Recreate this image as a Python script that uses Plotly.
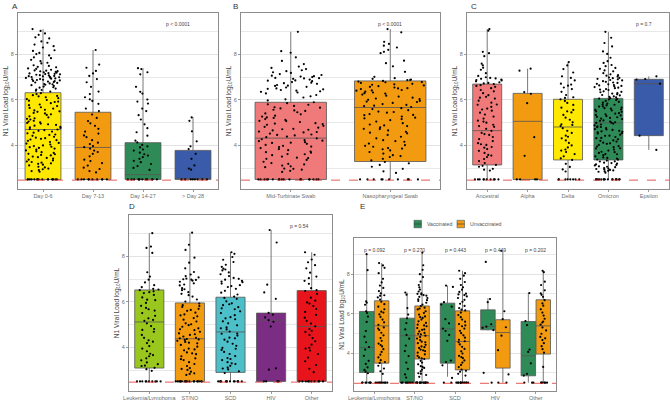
import plotly.graph_objects as go

# ---------------- data ----------------
LOD = 2.47

A_CATS = ["Day 0-6", "Day 7-13", "Day 14-27", "> Day 28"]
A_Q1 = [2.5, 2.5, 2.5, 2.5]
A_MED = [4.70, 3.91, 2.71, 2.52]
A_Q3 = [6.32, 5.46, 4.12, 3.78]
A_LO = [2.5, 2.5, 2.5, 2.5]
A_HI = [9.12, 8.2, 7.4, 5.25]

A_DAY06 = [9.12, 9.04, 8.93, 8.87, 8.76, 8.71, 8.58, 8.52, 8.44, 8.37, 8.31, 8.19, 8.16, 8.07, 8.02, 7.96, 7.88, 7.84,
           7.77, 7.71, 7.64, 7.61, 7.53, 7.5, 7.46, 7.44, 7.39, 7.37, 7.33, 7.3, 7.27, 7.26, 7.22, 7.2, 7.17, 7.15, 7.14,
           7.11, 7.09, 7.06, 7.05, 7.02, 7.0, 6.97, 6.95, 6.94, 6.91, 6.89, 6.86, 6.84, 6.81, 6.79, 6.75, 6.73, 6.7, 6.67,
           6.62, 6.59, 6.54, 6.5, 6.46, 6.41, 6.37, 6.3, 6.26, 6.21, 6.16, 6.12, 6.04, 6.0, 5.97, 5.91, 5.86, 5.8, 5.77,
           5.73, 5.65, 5.62, 5.57, 5.5, 5.48, 5.43, 5.37, 5.34, 5.28, 5.23, 5.19, 5.14, 5.08, 5.05, 4.99, 4.93, 4.9, 4.87,
           4.79, 4.77, 4.72, 4.67, 4.64, 4.56, 4.53, 4.48, 4.46, 4.38, 4.34, 4.29, 4.23, 4.2, 4.15, 4.11, 4.04, 4.0, 3.97,
           3.89, 3.86, 3.81, 3.78, 3.7, 3.67, 3.61, 3.56, 3.51, 3.48, 3.42, 3.37, 3.34, 3.27, 3.21, 3.19, 3.12, 3.06, 3.03,
           2.98, 2.91, 2.87, 2.84, 7.08, 7.24, 6.98, 6.88, 6.65, 6.44, 6.18, 5.93, 5.68, 5.41, 5.17, 4.96, 4.82, 4.61,
           4.42, 4.26, 4.08, 3.92, 3.74, 3.58, 3.45, 3.29, 3.15, 7.13, 7.01, 6.77, 6.56, 6.08, 5.54, 5.02, 4.7, 4.32,
           3.94, 3.63, 3.24, 2.95, 7.18, 6.92, 6.83, 6.69, 7.04, 7.29, 2.5, 2.5, 2.5, 2.5, 2.5, 2.5, 2.5, 2.5, 2.5, 2.5,
           2.5, 2.5, 2.5, 2.5, 2.5, 2.5]
A_DAY713 = [8.2, 7.56, 7.42, 7.28, 7.17, 7.06, 6.92, 6.78, 6.58, 6.37, 6.26, 6.12, 6.03, 5.96, 5.83, 5.62, 5.51, 5.36,
            5.21, 5.07, 4.97, 4.86, 4.73, 4.61, 4.52, 4.44, 4.36, 4.23, 4.12, 4.06, 3.97, 3.92, 3.86, 3.77, 3.71, 3.63,
            3.52, 3.37, 3.31, 3.22, 3.11, 3.02, 2.96, 2.87, 2.81, 2.5, 2.5, 2.5, 2.5, 2.5, 2.5, 2.5, 2.5, 2.5, 2.5]
A_DAY1427 = [7.4, 7.36, 7.22, 7.13, 6.58, 6.36, 6.28, 6.02, 5.93, 5.84, 5.62, 5.51, 5.33, 5.14, 4.93, 4.76, 4.58, 4.43,
             4.21, 4.13, 4.02, 3.96, 3.91, 3.82, 3.77, 3.68, 3.61, 3.55, 3.48, 3.41, 3.32, 3.26, 3.18, 3.09, 3.01, 2.92,
             2.5, 2.5, 2.5, 2.5, 2.5, 2.5, 2.5, 2.5, 2.5, 2.5, 2.5, 2.5]
A_DAY28 = [5.23, 5.08, 4.62, 4.18, 3.96, 3.84, 3.63, 3.41, 3.12, 2.98, 2.93, 2.5, 2.5, 2.5, 2.5, 2.5, 2.5, 2.5, 2.5]

B_CATS = ["Mid-Turbinate Swab", "Nasopharyngeal Swab"]
B_Q1 = [2.5, 3.29]
B_MED = [4.32, 5.67]
B_Q3 = [5.9, 6.84]
B_LO = [2.5, 2.5]
B_HI = [9.0, 9.12]

B_MT = [9.0, 8.15, 8.08, 7.88, 7.72, 7.58, 7.47, 7.41, 7.36, 7.31, 7.27, 7.22, 7.19, 7.14, 7.1, 7.07, 7.03, 7.01, 6.97,
        6.96, 6.93, 6.9, 6.86, 6.83, 6.79, 6.74, 6.71, 6.66, 6.63, 6.58, 6.55, 6.51, 6.47, 6.44, 6.41, 6.38, 6.33, 6.29,
        6.22, 6.16, 6.11, 6.03, 5.98, 5.9, 5.86, 5.79, 5.74, 5.68, 5.63, 5.57, 5.52, 5.46, 5.41, 5.37, 5.31, 5.27, 5.21,
        5.16, 5.12, 5.07, 5.03, 4.98, 4.94, 4.91, 4.86, 4.82, 4.78, 4.73, 4.69, 4.66, 4.61, 4.57, 4.52, 4.48, 4.44, 4.39,
        4.36, 4.31, 4.27, 4.23, 4.19, 4.14, 4.11, 4.07, 4.02, 3.98, 3.93, 3.88, 3.84, 3.79, 3.73, 3.68, 3.62, 3.57, 3.51,
        3.46, 3.41, 3.36, 3.28, 3.22, 3.16, 3.11, 3.04, 2.97, 2.93, 2.88, 2.83, 6.95, 6.85, 6.62, 6.49, 6.36, 5.81, 5.54,
        5.23, 4.96, 4.71, 4.46, 4.21, 3.95, 3.7, 3.44, 3.19, 2.98, 7.05, 6.76, 5.66, 5.08, 4.59, 4.12, 3.61, 3.08,
        2.5, 2.5, 2.5, 2.5, 2.5, 2.5, 2.5, 2.5, 2.5, 2.5, 2.5, 2.5, 2.5, 2.5, 2.5, 2.5, 2.5, 2.5]
B_NP = [9.12, 8.98, 8.56, 8.47, 8.39, 8.31, 8.21, 8.12, 8.06, 7.73, 7.62, 7.48, 7.24, 7.02, 6.96, 6.93, 6.9, 6.87, 6.84,
        6.81, 6.78, 6.75, 6.71, 6.67, 6.64, 6.61, 6.58, 6.55, 6.51, 6.48, 6.44, 6.41, 6.37, 6.33, 6.28, 6.24, 6.19, 6.15,
        6.1, 6.06, 6.01, 5.96, 5.91, 5.87, 5.82, 5.78, 5.73, 5.69, 5.64, 5.6, 5.55, 5.49, 5.44, 5.38, 5.33, 5.27, 5.22,
        5.16, 5.11, 5.05, 4.98, 4.92, 4.85, 4.79, 4.73, 4.66, 4.6, 4.53, 4.46, 4.38, 4.31, 4.23, 4.16, 4.08, 4.01, 3.94,
        3.88, 3.83, 3.78, 3.71, 3.64, 3.57, 3.49, 3.41, 3.34, 3.27, 3.21, 3.14, 3.06, 2.97, 2.86, 2.79, 6.88, 6.69, 6.52,
        6.3, 6.04, 5.75, 5.47, 5.19, 4.88, 4.56, 4.19, 3.86, 3.53, 6.79, 6.42, 5.93, 5.34, 4.72, 3.98,
        2.5, 2.5, 2.5, 2.5, 2.5, 2.5, 2.5, 2.5, 2.5, 2.5]

C_CATS = ["Ancestral", "Alpha", "Delta", "Omicron", "Epsilon"]
C_Q1 = [3.14, 2.5, 3.36, 3.36, 4.43]
C_MED = [4.65, 5.06, 4.81, 4.99, 6.72]
C_Q3 = [6.7, 6.29, 6.03, 6.07, 6.91]
C_LO = [2.5, 2.5, 2.5, 2.5, 3.8]
C_HI = [9.12, 7.38, 7.67, 9.0, 7.04]

C_ANC = [9.12, 9.05, 8.12, 8.06, 7.93, 7.6, 7.52, 7.42, 7.33, 7.18, 7.06, 7.0, 6.97, 6.93, 6.9, 6.86, 6.82, 6.78, 6.73,
         6.7, 6.65, 6.58, 6.52, 6.44, 6.38, 6.3, 6.21, 6.14, 6.06, 5.97, 5.88, 5.79, 5.7, 5.62, 5.53, 5.44, 5.36, 5.27,
         5.18, 5.09, 5.0, 4.91, 4.82, 4.73, 4.64, 4.55, 4.46, 4.37, 4.28, 4.19, 4.1, 4.02, 3.93, 3.84, 3.76, 3.67, 3.58,
         3.49, 3.4, 3.31, 3.22, 3.14, 3.06, 2.97, 2.89, 6.95, 6.88, 6.62, 6.1, 5.58, 5.05, 4.5, 4.05, 3.55, 3.1, 6.75,
         5.8, 4.85, 3.9, 2.93, 2.5, 2.5, 2.5, 2.5, 2.5, 2.5, 2.5, 2.5, 2.5, 2.5]
C_ALPHA = [7.38, 7.29, 6.35, 6.27, 5.86, 4.36, 3.54, 2.5, 2.5, 2.5, 2.5]
C_DELTA = [7.67, 7.52, 7.36, 7.21, 7.04, 6.97, 6.86, 6.72, 6.63, 6.55, 6.48, 6.36, 6.22, 6.09, 6.03, 5.96, 5.87, 5.78,
           5.66, 5.56, 5.45, 5.34, 5.22, 5.13, 5.02, 4.93, 4.85, 4.76, 4.64, 4.55, 4.43, 4.31, 4.22, 4.11, 4.0, 3.91,
           3.82, 3.71, 3.62, 3.52, 3.43, 3.36, 3.19, 3.05, 2.94, 2.85, 6.68, 6.12, 5.5, 4.9, 4.38, 3.77,
           2.5, 2.5, 2.5, 2.5, 2.5, 2.5, 2.5, 2.5]
C_OMI = [9.0, 8.74, 8.51, 8.36, 8.14, 8.03, 7.86, 7.71, 7.63, 7.54, 7.49, 7.41, 7.37, 7.3, 7.26, 7.18, 7.13, 7.07, 7.03,
         6.99, 6.96, 6.91, 6.88, 6.86, 6.8, 6.77, 6.75, 6.69, 6.66, 6.62, 6.6, 6.54, 6.52, 6.46, 6.44, 6.38, 6.36, 6.3,
         6.28, 6.22, 6.2, 6.14, 6.12, 6.08, 6.04, 6.0, 5.96, 5.92, 5.88, 5.84, 5.8, 5.76, 5.72, 5.66, 5.64, 5.58, 5.56,
         5.5, 5.48, 5.42, 5.4, 5.34, 5.32, 5.26, 5.24, 5.18, 5.16, 5.1, 5.08, 5.02, 5.0, 4.96, 4.92, 4.88, 4.84, 4.8,
         4.76, 4.72, 4.68, 4.62, 4.6, 4.54, 4.52, 4.47, 4.42, 4.37, 4.32, 4.27, 4.22, 4.17, 4.12, 4.07, 4.02, 3.97, 3.92,
         3.87, 3.82, 3.77, 3.72, 3.67, 3.62, 3.57, 3.52, 3.47, 3.42, 3.38, 3.33, 3.29, 3.24, 3.2, 3.16, 3.12, 3.08, 3.04,
         3.0, 2.96, 2.92, 2.88, 2.84, 2.8, 6.93, 6.71, 6.48, 6.25, 6.02, 5.79, 5.54, 5.29, 5.05, 4.81, 4.57, 4.33, 4.09,
         3.86, 3.61, 3.37, 3.14, 2.9, 6.97, 6.57, 6.16, 5.71, 5.21, 4.7, 4.2, 3.7, 3.22, 2.98, 6.83, 6.34, 5.62, 4.99,
         4.43, 3.95, 3.45, 3.06, 2.86, 7.09, 6.64, 6.06, 5.37, 4.64, 3.3, 2.94,
         2.5, 2.5, 2.5, 2.5, 2.5, 2.5, 2.5, 2.5, 2.5, 2.5, 2.5, 2.5, 2.5, 2.5, 2.5, 2.5]
C_EPS = [7.04, 6.92, 6.72, 6.9, 4.43, 3.8]

D_CATS = ["Leukemia/Lymphoma", "ST/NO", "SCD", "HIV", "Other"]
D_Q1 = [3.09, 2.5, 2.9, 2.5, 2.5]
D_MED = [5.12, 4.38, 4.68, 5.2, 4.92]
D_Q3 = [6.53, 5.96, 6.21, 5.51, 6.5]
D_LO = [2.5, 2.5, 2.5, 2.5, 2.5]
D_HI = [9.03, 9.05, 8.19, 9.17, 8.19]

D_LL = [9.03, 8.44, 8.38, 8.16, 7.31, 7.12, 6.98, 6.86, 6.74, 6.65, 6.58, 6.52, 6.47, 6.43, 6.39, 6.31, 6.2, 6.08, 5.96,
        5.83, 5.74, 5.62, 5.51, 5.39, 5.28, 5.17, 5.06, 4.94, 4.81, 4.69, 4.55, 4.42, 4.31, 4.19, 4.06, 3.95, 3.83, 3.72,
        3.61, 3.52, 3.43, 3.34, 3.26, 3.18, 3.1, 3.04, 2.97, 6.55, 6.1, 5.68, 5.21, 4.77, 4.25, 3.66, 3.2,
        2.5, 2.5, 2.5, 2.5, 2.5, 2.5, 2.5, 2.5, 2.5, 2.5]
D_ST = [9.05, 8.52, 8.29, 7.95, 7.73, 7.48, 7.32, 7.21, 7.14, 7.08, 7.03, 6.98, 6.94, 6.89, 6.82, 6.73, 6.61, 6.52, 6.43,
        6.36, 6.24, 6.11, 6.02, 5.93, 5.86, 5.78, 5.7, 5.61, 5.53, 5.45, 5.37, 5.29, 5.22, 5.14, 5.06, 4.98, 4.91, 4.84,
        4.76, 4.69, 4.62, 4.55, 4.48, 4.42, 4.37, 4.33, 4.29, 4.24, 4.18, 4.11, 4.03, 3.95, 3.87, 3.78, 3.7, 3.61, 3.52,
        3.44, 3.35, 3.27, 3.18, 3.09, 3.01, 2.93, 2.86, 2.79, 6.97, 6.77, 6.3, 5.82, 5.41, 5.02, 4.58, 4.4, 4.21, 3.91,
        3.48, 3.05, 2.83, 7.0, 6.56, 5.65, 4.8, 4.35, 3.74,
        2.5, 2.5, 2.5, 2.5, 2.5, 2.5, 2.5, 2.5, 2.5, 2.5, 2.5, 2.5, 2.5, 2.5, 2.5, 2.5, 2.5, 2.5]
D_SCD = [8.19, 8.12, 7.98, 7.86, 7.76, 7.64, 7.55, 7.47, 7.39, 7.3, 7.22, 7.14, 7.06, 6.98, 6.93, 6.87, 6.81, 6.74, 6.66,
         6.58, 6.49, 6.41, 6.33, 6.24, 6.14, 6.03, 5.94, 5.86, 5.77, 5.68, 5.59, 5.51, 5.42, 5.33, 5.24, 5.15, 5.06, 4.97,
         4.88, 4.79, 4.7, 4.61, 4.52, 4.43, 4.34, 4.25, 4.16, 4.07, 3.98, 3.89, 3.8, 3.71, 3.62, 3.53, 3.44, 3.35, 3.27,
         3.19, 3.11, 3.03, 2.95, 2.87, 7.02, 6.7, 6.18, 5.72, 5.28, 4.84, 4.4, 3.94, 3.49, 3.07, 7.43, 6.9, 5.9, 4.6, 3.3,
         2.5, 2.5, 2.5, 2.5, 2.5, 2.5, 2.5, 2.5, 2.5, 2.5, 2.5, 2.5, 2.5, 2.5]
D_HIV = [9.17, 8.62, 6.76, 6.42, 6.14, 5.52, 5.44, 5.32, 5.2, 5.13, 4.92, 3.08, 3.02, 2.5, 2.5, 2.5, 2.5]
D_OTH = [8.19, 8.08, 7.87, 7.75, 7.62, 7.48, 7.29, 7.12, 7.05, 6.93, 6.8, 6.61, 6.48, 6.36, 6.19, 6.06, 5.93, 5.82,
         5.69, 5.56, 5.43, 5.31, 5.17, 5.05, 4.93, 4.81, 4.68, 4.55, 4.41, 4.27, 4.12, 3.98, 3.86, 3.71, 3.55, 3.39,
         3.22, 3.06, 2.91, 6.52, 5.98, 4.73, 3.95, 2.5, 2.5, 2.5, 2.5, 2.5, 2.5, 2.5, 2.5, 2.5, 2.5]

E_CATS = ["Leukemia/Lymphoma", "ST/NO", "SCD", "HIV", "Other"]
E_GROUPS = ["Vaccinated", "Unvaccinated"]
E_PVALS = ["p = 0.092", "p = 0.270", "p = 0.443", "p = 0.449", "p = 0.202"]
E_Q1_VAC = [3.02, 2.5, 3.49, 5.18, 2.85]
E_MED_VAC = [4.28, 4.88, 5.22, 5.35, 3.86]
E_Q3_VAC = [6.11, 5.77, 6.53, 6.19, 5.6]
E_LO_VAC = [2.5, 2.5, 2.8, 5.15, 2.5]
E_HI_VAC = [9.01, 7.07, 7.42, 6.78, 7.04]
E_Q1_UNV = [3.49, 3.7, 3.15, 3.24, 3.95]
E_MED_UNV = [5.38, 4.88, 4.59, 5.04, 5.38]
E_Q3_UNV = [6.65, 6.39, 6.14, 5.69, 6.7]
E_LO_UNV = [2.5, 2.5, 2.5, 2.5, 2.5]
E_HI_UNV = [8.56, 9.09, 8.17, 9.18, 8.17]

E_LL_VAC = [9.01, 8.2, 6.62, 6.55, 6.45, 6.12, 6.03, 5.85, 5.58, 5.12, 4.83, 4.55, 4.31, 4.18, 3.86, 3.61, 3.45, 3.28,
            3.15, 3.06, 2.98, 2.5, 2.5, 2.5, 2.5, 2.5, 2.5, 2.5]
E_LL_UNV = [8.56, 8.44, 8.32, 8.05, 7.76, 7.58, 7.42, 7.3, 7.14, 7.02, 6.93, 6.82, 6.71, 6.6, 6.48, 6.35, 6.22, 6.1,
            5.96, 5.83, 5.7, 5.56, 5.43, 5.3, 5.17, 5.03, 4.9, 4.76, 4.62, 4.48, 4.34, 4.2, 4.06, 3.92, 3.78, 3.64, 3.5,
            3.36, 3.22, 3.08, 2.95, 6.9, 6.05, 5.24, 4.41, 3.55, 2.5, 2.5, 2.5, 2.5, 2.5, 2.5, 2.5, 2.5, 2.5, 2.5]
E_ST_VAC = [7.07, 6.96, 6.28, 5.95, 5.76, 5.52, 5.2, 4.92, 4.73, 4.38, 4.1, 3.85, 3.52, 3.2, 2.92, 2.76,
            2.5, 2.5, 2.5, 2.5, 2.5, 2.5, 2.5, 2.5]
E_ST_UNV = [9.09, 8.45, 8.22, 8.0, 7.85, 7.62, 7.45, 7.33, 7.22, 7.12, 7.03, 6.97, 6.91, 6.85, 6.79, 6.72, 6.64, 6.55,
            6.46, 6.38, 6.3, 6.21, 6.12, 6.03, 5.95, 5.86, 5.78, 5.7, 5.61, 5.53, 5.44, 5.36, 5.27, 5.18, 5.1, 5.02, 4.95,
            4.88, 4.81, 4.74, 4.66, 4.58, 4.5, 4.42, 4.34, 4.26, 4.18, 4.1, 4.02, 3.94, 3.86, 3.78, 3.7, 3.61, 3.52, 3.43,
            3.34, 3.25, 3.16, 3.07, 2.98, 2.89, 2.8, 7.0, 6.68, 6.26, 5.82, 5.4, 4.98, 4.55, 4.14, 3.73, 3.3, 2.95, 6.94,
            5.2, 4.3, 2.5, 2.5, 2.5, 2.5, 2.5, 2.5, 2.5, 2.5, 2.5, 2.5, 2.5, 2.5, 2.5, 2.5]
E_SCD_VAC = [7.42, 7.35, 6.58, 6.46, 6.35, 5.72, 5.51, 5.24, 5.12, 4.92, 4.62, 3.62, 3.55, 3.38, 2.74, 2.5, 2.5]
E_SCD_UNV = [8.17, 8.05, 7.92, 7.76, 7.6, 7.45, 7.33, 7.21, 7.1, 7.01, 6.94, 6.87, 6.79, 6.7, 6.6, 6.5, 6.39, 6.28,
             6.16, 6.05, 5.93, 5.82, 5.7, 5.59, 5.47, 5.36, 5.24, 5.13, 5.01, 4.9, 4.78, 4.67, 4.55, 4.44, 4.32, 4.21,
             4.09, 3.98, 3.86, 3.75, 3.63, 3.52, 3.4, 3.29, 3.17, 3.06, 2.95, 2.86, 6.97, 6.2, 5.4, 4.6, 3.8, 3.1,
             2.5, 2.5, 2.5, 2.5, 2.5, 2.5, 2.5, 2.5, 2.5, 2.5, 2.5, 2.5]
E_HIV_VAC = [8.62, 6.74, 6.58, 5.46, 5.34, 5.28, 5.16, 3.0, 2.5]
E_HIV_UNV = [9.18, 6.12, 5.72, 5.31, 4.88, 4.15, 2.92, 2.5, 2.5]
E_OTH_VAC = [7.04, 5.62, 5.42, 4.18, 4.06, 3.48, 2.95, 2.86, 2.5, 2.5, 2.5]
E_OTH_UNV = [8.17, 8.1, 7.62, 7.45, 7.18, 7.02, 6.85, 6.68, 6.52, 6.4, 6.22, 6.05, 5.9, 5.74, 5.6, 5.44, 5.3, 5.15,
             4.98, 4.82, 4.66, 4.5, 4.35, 4.2, 4.02, 3.3, 6.95, 5.55, 4.75, 2.5, 2.5, 2.5, 2.5, 2.5, 2.5]

P_A = "p < 0.0001"
P_B = "p < 0.0001"
P_C = "p = 0.7"
P_D = "p = 0.54"

# ---------------- styling ----------------
YELLOW = "#FFE800"
ORANGE = "#F39B10"
GREEN = "#2E8B57"
BLUE = "#3A5BA9"
SALMON = "#F07A7A"
YGREEN = "#9AC71E"
CYAN = "#4DBFC9"
PURPLE = "#7B2C83"
RED = "#E8141C"

FONT = "Liberation Sans, Arial, sans-serif"
YRANGE = [2.08, 9.83]
W, H = 670, 400

fig = go.Figure()


def add_group(xa, ya, cat, q1, med, q3, lo, hi, color, pts, ag, og):
    fig.add_trace(go.Box(
        x=[cat], q1=[q1], median=[med], q3=[q3], lowerfence=[lo], upperfence=[hi],
        fillcolor=color, line=dict(color="#555555", width=0.8), whiskerwidth=0,
        boxpoints=False, alignmentgroup=ag, offsetgroup=og, xaxis=xa, yaxis=ya,
        name=cat, showlegend=False))
    fig.add_trace(go.Box(
        x=[cat] * len(pts), y=pts, boxpoints="all", jitter=1, pointpos=0,
        marker=dict(color="black", size=2.2, line=dict(width=0)),
        line=dict(color="rgba(0,0,0,0)", width=0), fillcolor="rgba(0,0,0,0)",
        alignmentgroup=ag, offsetgroup=og, xaxis=xa, yaxis=ya, showlegend=False,
        hoveron="points", name=cat))


for i, (c, pts) in enumerate(zip(A_CATS, [A_DAY06, A_DAY713, A_DAY1427, A_DAY28])):
    add_group("x", "y", c, A_Q1[i], A_MED[i], A_Q3[i], A_LO[i], A_HI[i],
              [YELLOW, ORANGE, GREEN, BLUE][i], pts, "A", "a")
for i, (c, pts) in enumerate(zip(B_CATS, [B_MT, B_NP])):
    add_group("x2", "y2", c, B_Q1[i], B_MED[i], B_Q3[i], B_LO[i], B_HI[i],
              [SALMON, ORANGE][i], pts, "B", "b")
for i, (c, pts) in enumerate(zip(C_CATS, [C_ANC, C_ALPHA, C_DELTA, C_OMI, C_EPS])):
    add_group("x3", "y3", c, C_Q1[i], C_MED[i], C_Q3[i], C_LO[i], C_HI[i],
              [SALMON, ORANGE, YELLOW, GREEN, BLUE][i], pts, "C", "c")
for i, (c, pts) in enumerate(zip(D_CATS, [D_LL, D_ST, D_SCD, D_HIV, D_OTH])):
    add_group("x4", "y4", c, D_Q1[i], D_MED[i], D_Q3[i], D_LO[i], D_HI[i],
              [YGREEN, ORANGE, CYAN, PURPLE, RED][i], pts, "D", "d")
E_VAC_PTS = [E_LL_VAC, E_ST_VAC, E_SCD_VAC, E_HIV_VAC, E_OTH_VAC]
E_UNV_PTS = [E_LL_UNV, E_ST_UNV, E_SCD_UNV, E_HIV_UNV, E_OTH_UNV]
for i, c in enumerate(E_CATS):
    add_group("x5", "y5", c, E_Q1_VAC[i], E_MED_VAC[i], E_Q3_VAC[i], E_LO_VAC[i], E_HI_VAC[i],
              GREEN, E_VAC_PTS[i], "E", "vac")
    add_group("x5", "y5", c, E_Q1_UNV[i], E_MED_UNV[i], E_Q3_UNV[i], E_LO_UNV[i], E_HI_UNV[i],
              ORANGE, E_UNV_PTS[i], "E", "unv")


def dx(a, b):
    return [a / W, b / W]


def dy(top, bottom):
    return [1 - bottom / H, 1 - top / H]


panels = {
    "": (dx(18, 218), dy(13, 189), A_CATS),
    "2": (dx(241, 440), dy(13, 189), B_CATS),
    "3": (dx(467, 669), dy(13, 189), C_CATS),
    "4": (dx(129, 332), dy(215, 391), D_CATS),
    "5": (dx(354, 556), dy(238, 391), E_CATS),
}

ytitle = "N1 Viral Load log<sub>10</sub>U/mL"
layout_axes = {}
for k, (xd, yd, cats) in panels.items():
    layout_axes["xaxis" + k] = dict(
        domain=xd, anchor="y" + k, type="category", categoryorder="array", categoryarray=cats,
        showline=True, mirror=True, linecolor="#8c8c8c", linewidth=1, showgrid=False, zeroline=False,
        ticks="outside", ticklen=2, tickcolor="#9a9a9a", automargin=False, ticklabelstandoff=-1,
        tickfont=dict(size=5.5, color="#6e6e6e", family=FONT), fixedrange=True)
    layout_axes["yaxis" + k] = dict(
        domain=yd, anchor="x" + k, range=YRANGE, tickvals=[4, 6, 8], ticktext=["4", "6", "8"],
        showgrid=True, gridcolor="#e3e3e3", gridwidth=1, automargin=False,
        minor=dict(tickvals=[3, 5, 7, 9], showgrid=True, gridcolor="#e8e8e8", gridwidth=1),
        showline=True, mirror=True, linecolor="#8c8c8c", linewidth=1, zeroline=False,
        ticks="outside", ticklen=2, tickcolor="#9a9a9a",
        tickfont=dict(size=5.5, color="#6e6e6e", family=FONT),
        title=dict(text=ytitle, font=dict(size=6.5, color="#444444", family=FONT), standoff=1))

shapes = []
for k in panels:
    shapes.append(dict(type="line", xref=("x" + k) + " domain", yref="y" + k, x0=0, x1=1, y0=LOD, y1=LOD,
                       line=dict(color="#E0302A", width=0.8, dash="dash"), layer="above"))

annots = []
for txt, x, y in [("A", 15, 6), ("B", 236, 6), ("C", 474, 6), ("D", 132, 207), ("E", 362, 207)]:
    annots.append(dict(text=txt, x=x / W, y=1 - y / H, xref="paper", yref="paper", showarrow=False,
                       xanchor="center", yanchor="middle", font=dict(size=8, color="#333333", family=FONT)))

annots.append(dict(text=P_A, x=0.87, y=0.965, xref="x domain", yref="y domain", showarrow=False,
                   font=dict(size=5, color="#444444", family=FONT)))
annots.append(dict(text=P_B, x=B_CATS[1], y=0.965, xref="x2", yref="y2 domain", showarrow=False,
                   font=dict(size=5, color="#444444", family=FONT)))
annots.append(dict(text=P_C, x=0.925, y=0.965, xref="x3 domain", yref="y3 domain", showarrow=False,
                   font=dict(size=5, color="#444444", family=FONT)))
annots.append(dict(text=P_D, x=0.89, y=0.965, xref="x4 domain", yref="y4 domain", showarrow=False,
                   font=dict(size=5, color="#444444", family=FONT)))
for c, p in zip(E_CATS, E_PVALS):
    annots.append(dict(text=p, x=c, y=0.955, xref="x5", yref="y5 domain", showarrow=False,
                       font=dict(size=5, color="#444444", family=FONT)))

# manual legend for panel E (key squares + labels)
LEG = [(E_GROUPS[0], GREEN, 414, 425), (E_GROUPS[1], ORANGE, 457, 468)]
for label, col, sx, tx in LEG:
    shapes.append(dict(type="rect", xref="paper", yref="paper", x0=sx / W, x1=(sx + 7.5) / W,
                       y0=1 - 227.8 / H, y1=1 - 220.3 / H, fillcolor=col, line=dict(color="#555555", width=0.6)))
    shapes.append(dict(type="line", xref="paper", yref="paper", x0=sx / W, x1=(sx + 7.5) / W,
                       y0=1 - 224 / H, y1=1 - 224 / H, line=dict(color="#333333", width=0.6)))
    annots.append(dict(text=label, x=tx / W, y=1 - 224 / H, xref="paper", yref="paper", showarrow=False,
                       xanchor="left", yanchor="middle", font=dict(size=5.2, color="#555555", family=FONT)))

fig.update_layout(
    width=W, height=H, margin=dict(l=0, r=0, t=0, b=0),
    paper_bgcolor="white", plot_bgcolor="white",
    boxmode="group", boxgap=0.26, boxgroupgap=0.03,
    font=dict(family=FONT, size=6, color="#444444"),
    showlegend=False,
    shapes=shapes, annotations=annots,
    **layout_axes,
)

fig.write_html("out.html", config={"displayModeBar": False},
               post_script="document.body.style.margin='0px';document.body.style.overflow='hidden';")
